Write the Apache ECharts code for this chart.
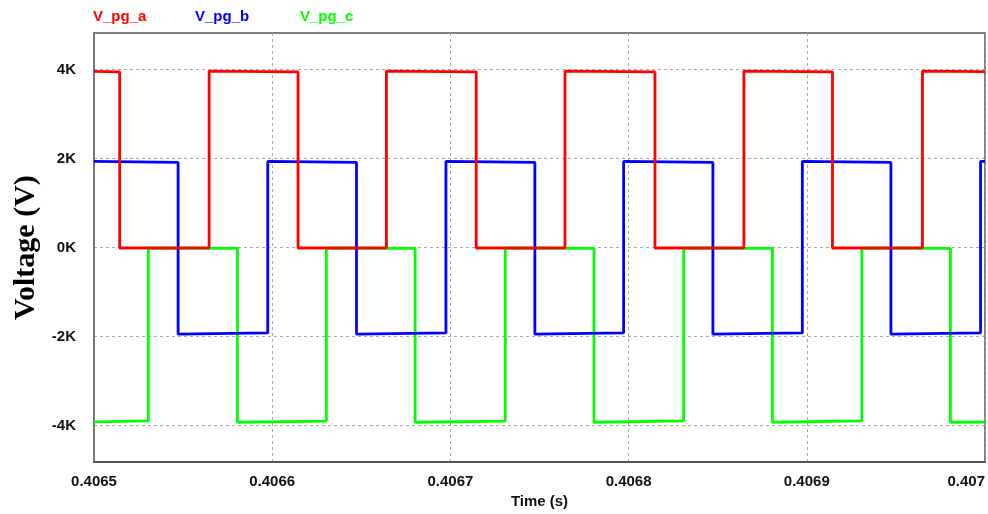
<!DOCTYPE html>
<html>
<head>
<meta charset="utf-8">
<script src="https://cdn.jsdelivr.net/npm/echarts@6/dist/echarts.min.js"></script>
<style>
  html, body { margin: 0; padding: 0; background: #fff; }
  #chart { width: 988px; height: 514px; }
</style>
</head>
<body>
<div id="chart"></div>
<script>
// Switching instants (s) bounding each flat segment, with the level at the
// start and end of every segment (V).
const redEdges = [0.4065, 0.4065144, 0.4065646, 0.4066145, 0.4066641, 0.4067145,
                  0.4067643, 0.4068148, 0.4068647, 0.4069144, 0.4069649, 0.4070];
const redStart = [3960, -10, 3965, -10, 3965, -10, 3962, -10, 3965, -10, 3962];
const redEnd   = [3948,  -6, 3945,  -6, 3948,  -6, 3945,  -6, 3948,  -6, 3952];

const blueEdges = [0.4065, 0.4065472, 0.4065975, 0.4066473, 0.4066975, 0.4067474,
                   0.4067972, 0.4068473, 0.4068975, 0.4069472, 0.4069975, 0.4070];
const blueStart = [1935, -1945, 1935, -1945, 1935, -1945, 1935, -1945, 1935, -1945, 1935];
const blueEnd   = [1912, -1918, 1912, -1918, 1912, -1918, 1912, -1918, 1912, -1918, 1935];

const greenEdges = [0.4065, 0.4065305, 0.4065805, 0.4066304, 0.4066802, 0.4067308,
                    0.4067806, 0.4068309, 0.4068807, 0.4069309, 0.4069806, 0.4070];
const greenStart = [-3918, -15, -3925, -15, -3925, -15, -3925, -15, -3925, -15, -3925];
const greenEnd   = [-3892, -18, -3898, -18, -3898, -18, -3895, -18, -3895, -18, -3922];

const seriesNames = ['V_pg_a', 'V_pg_b', 'V_pg_c'];
const seriesColors = ['#ff0000', '#0000ff', '#00ff00'];
const yTicks = [-4000, -2000, 0, 2000, 4000];

// Turn segment lists into polyline points; shared x values give vertical edges.
function stepPoints(edges, startVals, endVals) {
  const pts = [];
  for (let i = 0; i < startVals.length; i++) {
    pts.push([edges[i], startVals[i]]);
    pts.push([edges[i + 1], endVals[i]]);
  }
  return pts;
}

const waves = [
  stepPoints(redEdges, redStart, redEnd),
  stepPoints(blueEdges, blueStart, blueEnd),
  stepPoints(greenEdges, greenStart, greenEnd)
];

const labelFont = { fontFamily: 'Liberation Sans, Arial, sans-serif', fontWeight: 'bold', fontSize: 15, color: '#111' };
const gridLine = { show: true, lineStyle: { color: '#aaa', type: [3, 3], width: 1 } };
const legendLeft = [82, 184, 289];

const chart = echarts.init(document.getElementById('chart'), null, { renderer: 'canvas' });
chart.setOption({
  animation: false,
  backgroundColor: '#fff',
  grid: { left: 94, right: 3, top: 33, bottom: 50, show: true, borderColor: '#555', borderWidth: 1.5 },
  legend: seriesNames.map((n, i) => ({
    data: [{ name: n, textStyle: { color: seriesColors[i] } }],
    left: legendLeft[i], top: 4,
    itemWidth: 0, itemHeight: 0, selectedMode: false,
    textStyle: { fontFamily: 'Liberation Sans, Arial, sans-serif', fontWeight: 'bold', fontSize: 15 }
  })),
  xAxis: {
    type: 'value',
    min: 0.4065, max: 0.4070, interval: 0.0001,
    name: 'Time (s)', nameLocation: 'middle', nameGap: 30,
    nameTextStyle: labelFont,
    axisLine: { onZero: false, lineStyle: { color: '#555', width: 2 } },
    axisTick: { show: false },
    axisLabel: Object.assign({ margin: 12, alignMaxLabel: 'right',
      formatter: v => String(parseFloat(v.toFixed(4))) }, labelFont),
    splitLine: gridLine
  },
  yAxis: {
    type: 'value',
    min: -4820, max: 4820,
    name: 'Voltage (V)', nameLocation: 'middle', nameGap: 48,
    nameTextStyle: { fontFamily: 'Liberation Serif, Times New Roman, serif', fontWeight: 'bold', fontSize: 30, color: '#000' },
    axisLine: { show: true, onZero: false, lineStyle: { color: '#777', width: 2 } },
    axisTick: { show: false, customValues: yTicks },
    axisLabel: Object.assign({ margin: 18, customValues: yTicks,
      formatter: v => Math.round(v / 1000) + 'K' }, labelFont),
    splitLine: gridLine
  },
  series: waves.map((d, i) => ({
    name: seriesNames[i],
    type: 'line',
    data: d,
    showSymbol: false,
    color: seriesColors[i],
    lineStyle: { color: seriesColors[i], width: 2.8 },
    z: 3 - i
  }))
});
</script>
</body>
</html>
